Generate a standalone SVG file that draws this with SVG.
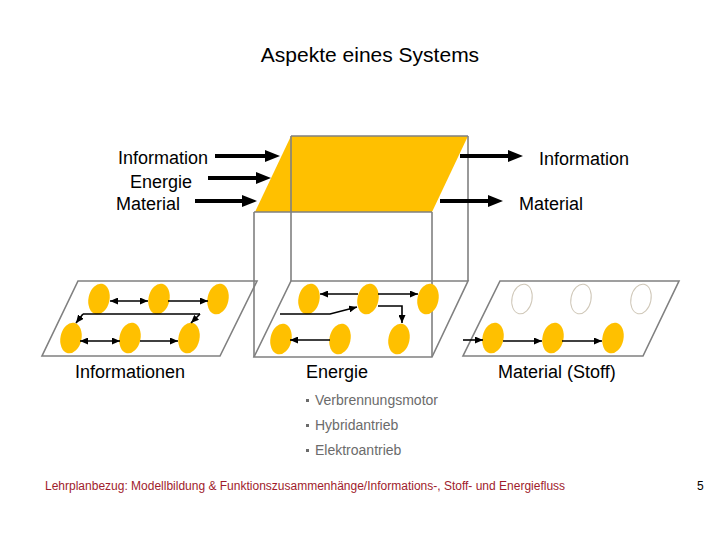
<svg xmlns="http://www.w3.org/2000/svg" width="720" height="540" viewBox="0 0 720 540">
<style>
text{font-family:"Liberation Sans",Arial,sans-serif;fill:#000}
.lbl{font-size:18px}
.title{font-size:21px}
.bul{font-size:14px;fill:#6b6b6b}
.foot{font-size:12px;fill:#a01c2c}
.edge{fill:none;stroke:#808080;stroke-width:1.6}
.el{fill:#FFC000}
.eo{fill:none;stroke:#cfc7b8;stroke-width:1}
.big{stroke:#000;stroke-width:4;fill:none;marker-end:url(#bh)}
.sm{stroke:#000;stroke-width:1.6;fill:none;marker-end:url(#sh)}
.dbl{marker-start:url(#sh)}
</style>
<defs>
<marker id="bh" markerUnits="userSpaceOnUse" markerWidth="15" markerHeight="12" refX="5" refY="6" orient="auto"><path d="M0,0 L15,6 L0,12 z" fill="#000"/></marker>
<marker id="sh" markerUnits="userSpaceOnUse" markerWidth="8" markerHeight="7" refX="8" refY="3.5" orient="auto-start-reverse"><path d="M0,0 L8,3.5 L0,7 z" fill="#000"/></marker>
</defs>
<rect width="720" height="540" fill="#fff"/>
<g id="title"><text class="title" x="370" y="62" text-anchor="middle">Aspekte eines Systems</text></g>
<g id="system-box">
<polygon points="291,136 468,136 432,212 255,212" fill="#FFC000"/>
<path class="edge" d="M291,136 H468 M291,136 V281 M468,136 V281 M254,212 H432 M254,212 V357 M432,212 V357"/>
</g>
<g id="plane-informationen">
<polygon class="edge" points="78,281 257,281 220,356 42,356"/>
<g transform="rotate(12 99 299)"><ellipse class="el" cx="99" cy="299" rx="10.5" ry="15.5"/></g>
<g transform="rotate(12 159 299)"><ellipse class="el" cx="159" cy="299" rx="10.5" ry="15.5"/></g>
<g transform="rotate(12 218 299)"><ellipse class="el" cx="218" cy="299" rx="10.5" ry="15.5"/></g>
<g transform="rotate(12 71 338)"><ellipse class="el" cx="71" cy="338" rx="10.5" ry="15.5"/></g>
<g transform="rotate(12 130 338)"><ellipse class="el" cx="130" cy="338" rx="10.5" ry="15.5"/></g>
<g transform="rotate(12 189 338)"><ellipse class="el" cx="189" cy="338" rx="10.5" ry="15.5"/></g>
</g>
<g id="plane-energie">
<polygon class="edge" points="291,281 468,281 432,357 254,357"/>
<g transform="rotate(12 309 299)"><ellipse class="el" cx="309" cy="299" rx="10.5" ry="15.5"/></g>
<g transform="rotate(12 368 299)"><ellipse class="el" cx="368" cy="299" rx="10.5" ry="15.5"/></g>
<g transform="rotate(12 428 299)"><ellipse class="el" cx="428" cy="299" rx="10.5" ry="15.5"/></g>
<g transform="rotate(12 281 339)"><ellipse class="el" cx="281" cy="339" rx="10.5" ry="15.5"/></g>
<g transform="rotate(12 340 339)"><ellipse class="el" cx="340" cy="339" rx="10.5" ry="15.5"/></g>
<g transform="rotate(12 399 339)"><ellipse class="el" cx="399" cy="339" rx="10.5" ry="15.5"/></g>
</g>
<g id="plane-material">
<polygon class="edge" points="500,281 679,281 643,356 463,356"/>
<g transform="rotate(12 522 299)"><ellipse class="eo" cx="522" cy="299" rx="10" ry="15"/></g>
<g transform="rotate(12 581 299)"><ellipse class="eo" cx="581" cy="299" rx="10" ry="15"/></g>
<g transform="rotate(12 641 299)"><ellipse class="eo" cx="641" cy="299" rx="10" ry="15"/></g>
<g transform="rotate(12 493 338)"><ellipse class="el" cx="493" cy="338" rx="10.5" ry="15.5"/></g>
<g transform="rotate(12 553 338)"><ellipse class="el" cx="553" cy="338" rx="10.5" ry="15.5"/></g>
<g transform="rotate(12 613 338)"><ellipse class="el" cx="613" cy="338" rx="10.5" ry="15.5"/></g>
</g>
<g id="connectors">
<line class="big" x1="215" y1="156" x2="270" y2="156"/>
<line class="big" x1="208" y1="178" x2="261" y2="178"/>
<line class="big" x1="195" y1="201" x2="247" y2="201"/>
<line class="big" x1="460" y1="156" x2="513" y2="156"/>
<line class="big" x1="440" y1="201" x2="493" y2="201"/>
<line class="sm dbl" x1="110" y1="301" x2="148" y2="301"/>
<line class="sm" x1="168" y1="301" x2="208" y2="301"/>
<line x1="83" y1="314" x2="200" y2="314" stroke="#000" stroke-width="1.6"/>
<line class="sm" x1="83" y1="314" x2="76" y2="323"/>
<line class="sm" x1="200" y1="314" x2="191" y2="323"/>
<line class="sm dbl" x1="80" y1="341" x2="120" y2="341"/>
<line class="sm" x1="140" y1="341" x2="178" y2="341"/>
<line class="sm" x1="358" y1="294" x2="320" y2="294"/>
<line class="sm" x1="378" y1="294" x2="418" y2="294"/>
<polyline class="sm" points="280,314 330,314 357,307"/>
<polyline class="sm" points="378,306 402,306 402,323"/>
<line class="sm" x1="330" y1="340" x2="290" y2="340"/>
<line class="sm" x1="463" y1="340" x2="483" y2="340"/>
<line class="sm" x1="503" y1="341" x2="542" y2="341"/>
<line class="sm" x1="562" y1="341" x2="602" y2="341"/>
</g>
<g id="inputs">
<text class="lbl" x="118" y="164">Information</text>
<text class="lbl" x="130" y="188">Energie</text>
<text class="lbl" x="116" y="210">Material</text>
</g>
<g id="outputs">
<text class="lbl" x="539" y="165">Information</text>
<text class="lbl" x="519" y="210">Material</text>
</g>
<g id="plane-labels">
<text class="lbl" x="75" y="378">Informationen</text>
<text class="lbl" x="306" y="378">Energie</text>
<text class="lbl" x="498" y="378">Material (Stoff)</text>
</g>
<g id="bullets">
<rect x="306" y="399" width="3" height="3" fill="#6b6b6b"/>
<text class="bul" x="315" y="404.5">Verbrennungsmotor</text>
<rect x="306" y="424" width="3" height="3" fill="#6b6b6b"/>
<text class="bul" x="315" y="429.5">Hybridantrieb</text>
<rect x="306" y="449" width="3" height="3" fill="#6b6b6b"/>
<text class="bul" x="315" y="454.5">Elektroantrieb</text>
</g>
<g id="footer">
<text class="foot" x="45" y="490">Lehrplanbezug: Modellbildung &amp; Funktionszusammenhänge/Informations-, Stoff- und Energiefluss</text>
<text x="697" y="490" style="font-size:12px">5</text>
</g>
</svg>
